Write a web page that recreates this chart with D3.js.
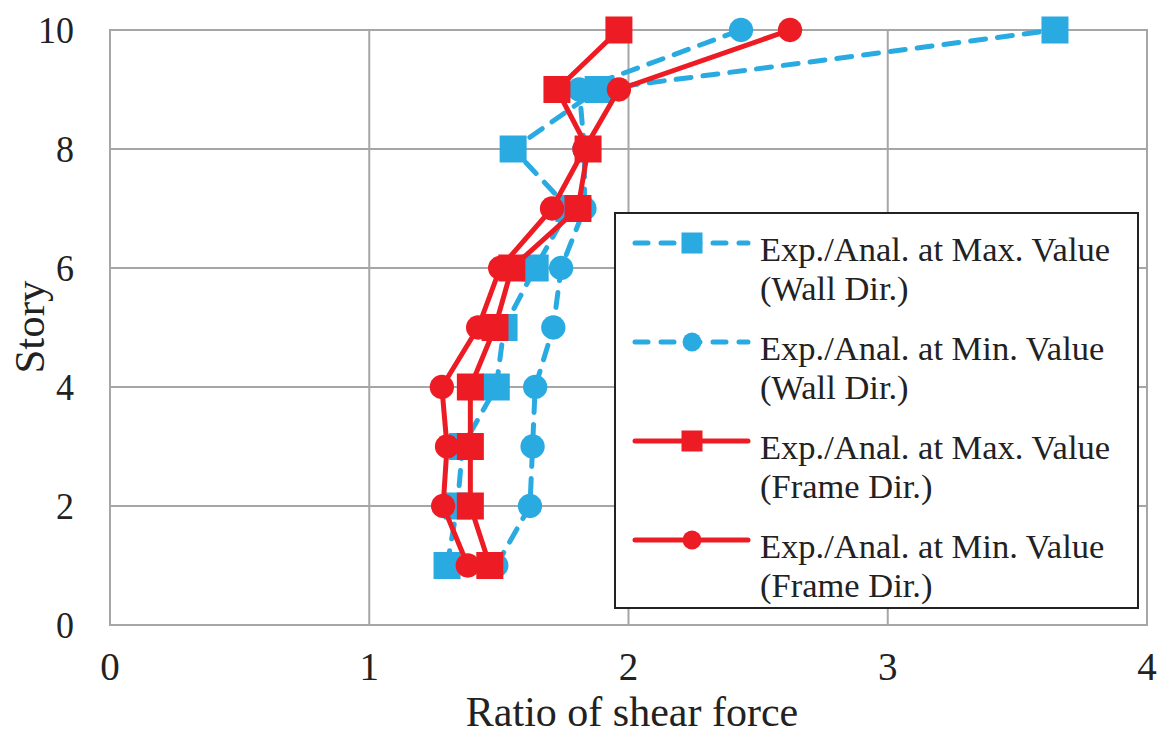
<!DOCTYPE html>
<html>
<head>
<meta charset="utf-8">
<script src="https://cdn.jsdelivr.net/npm/d3@7"></script>
<style>
  body { margin: 0; background: #fff; }
  svg text { font-family: "Liberation Serif", "DejaVu Serif", "Times New Roman", serif; fill: #222; }
</style>
</head>
<body>
<div id="chart-area"></div>
<script>
// Data
var stories = [1, 2, 3, 4, 5, 6, 7, 8, 9, 10];
var wallMax  = [1.30, 1.34, 1.36, 1.49, 1.52, 1.64, 1.77, 1.555, 1.883, 3.645];
var wallMin  = [1.49, 1.62, 1.63, 1.64, 1.71, 1.74, 1.83, 1.83, 1.81, 2.434];
var frameMax = [1.465, 1.39, 1.39, 1.39, 1.485, 1.55, 1.805, 1.844, 1.724, 1.963];
var frameMin = [1.38, 1.285, 1.30, 1.28, 1.42, 1.505, 1.705, 1.83, 1.963, 2.623];
var xTicks = [0, 1, 2, 3, 4];
var yTicks = [0, 2, 4, 6, 8, 10];

var seriesNames = [
  ["Exp./Anal. at Max. Value", "(Wall Dir.)"],
  ["Exp./Anal. at Min. Value", "(Wall Dir.)"],
  ["Exp./Anal. at Max. Value", "(Frame Dir.)"],
  ["Exp./Anal. at Min. Value", "(Frame Dir.)"]
];
var seriesValues = [wallMax, wallMin, frameMax, frameMin];
var seriesColor = ["#29abe2", "#29abe2", "#ed1c24", "#ed1c24"];
var seriesDash = ["15,12", "15,12", null, null];
var seriesShape = ["square", "circle", "square", "circle"];

var margin = { left: 110, right: 14, top: 30, bottom: 110 };
var width = 1161 - margin.left - margin.right;
var height = 735 - margin.top - margin.bottom;

var svg = d3.select("#chart-area")
  .append("svg")
    .attr("width", 1161)
    .attr("height", 735);

var g = svg.append("g")
  .attr("transform", "translate(" + margin.left + ", " + margin.top + ")");

var x = d3.scaleLinear().domain([0, 4]).range([0, width]);
var y = d3.scaleLinear().domain([0, 10]).range([height, 0]);

// text drawn a bit taller than wide, like the source figure
function tallText(sel, tx, ty, size, stretch, anchor, str) {
  return sel.append("g")
    .attr("transform", "translate(" + tx + "," + ty + ") scale(1," + stretch + ")")
    .append("text")
      .attr("font-size", size + "px")
      .attr("text-anchor", anchor)
      .text(str);
}

// Grid
g.selectAll(".vgrid").data(xTicks).enter().append("line")
  .attr("x1", d => x(d)).attr("x2", d => x(d))
  .attr("y1", 0).attr("y2", height)
  .attr("stroke", "#a6a6a6").attr("stroke-width", 2);

g.selectAll(".hgrid").data(yTicks).enter().append("line")
  .attr("x1", 0).attr("x2", width)
  .attr("y1", d => y(d)).attr("y2", d => y(d))
  .attr("stroke", "#a6a6a6").attr("stroke-width", 2);

g.append("rect")
  .attr("width", width).attr("height", height)
  .attr("fill", "none").attr("stroke", "#a6a6a6").attr("stroke-width", 2);

// Tick labels
xTicks.forEach(function (d) {
  tallText(g, x(d), 680 - margin.top, 39, 1.0, "middle", d3.format("d")(d));
});
yTicks.forEach(function (d) {
  tallText(g, -36, y(d) + 13, 36, 1.08, "end", d3.format("d")(d));
});

// Axis titles
tallText(g, 632 - margin.left, 726 - margin.top, 42, 1.0, "middle", "Ratio of shear force");

g.append("text")
  .attr("transform", "translate(" + (44 - margin.left) + "," + (327 - margin.top) + ") rotate(-90)")
  .attr("font-size", "43px")
  .attr("text-anchor", "middle")
  .text("Story");

function drawMarker(sel, shape, color, cx, cy, size) {
  if (shape === "square") {
    sel.append("rect")
      .attr("x", cx - size / 2).attr("y", cy - size / 2)
      .attr("width", size).attr("height", size)
      .attr("fill", color);
  } else {
    sel.append("circle")
      .attr("cx", cx).attr("cy", cy).attr("r", size * 0.45)
      .attr("fill", color);
  }
}

// Series
var line = d3.line()
  .x(d => x(d.v))
  .y(d => y(d.s));

seriesValues.forEach(function (vals, i) {
  var data = stories.map((s, k) => ({ s: s, v: vals[k] }));
  var sg = g.append("g");
  sg.append("path")
    .datum(data)
    .attr("d", line)
    .attr("fill", "none")
    .attr("stroke", seriesColor[i])
    .attr("stroke-width", 5)
    .attr("stroke-linecap", "round")
    .attr("stroke-dasharray", seriesDash[i]);
  data.forEach(function (d) {
    drawMarker(sg, seriesShape[i], seriesColor[i], x(d.v), y(d.s), 27);
  });
});

// Legend
var legend = svg.append("g").attr("transform", "translate(615, 213)");
legend.append("rect")
  .attr("width", 523).attr("height", 395)
  .attr("fill", "#fff").attr("stroke", "#222").attr("stroke-width", 2);

seriesNames.forEach(function (name, i) {
  var ly = 30 + i * 99;
  var row = legend.append("g").attr("transform", "translate(0, " + ly + ")");
  row.append("line")
    .attr("x1", 20).attr("x2", 133)
    .attr("y1", 0).attr("y2", 0)
    .attr("stroke", seriesColor[i])
    .attr("stroke-width", 5)
    .attr("stroke-linecap", "round")
    .attr("stroke-dasharray", seriesDash[i] ? "13,13" : null);
  drawMarker(row, seriesShape[i], seriesColor[i], 77, 0, 21);
  row.append("text")
    .attr("x", 145).attr("y", 18)
    .attr("font-size", "34.5px")
    .text(name[0]);
  row.append("text")
    .attr("x", 145).attr("y", 56.5)
    .attr("font-size", "34.5px")
    .text(name[1]);
});
</script>
</body>
</html>
